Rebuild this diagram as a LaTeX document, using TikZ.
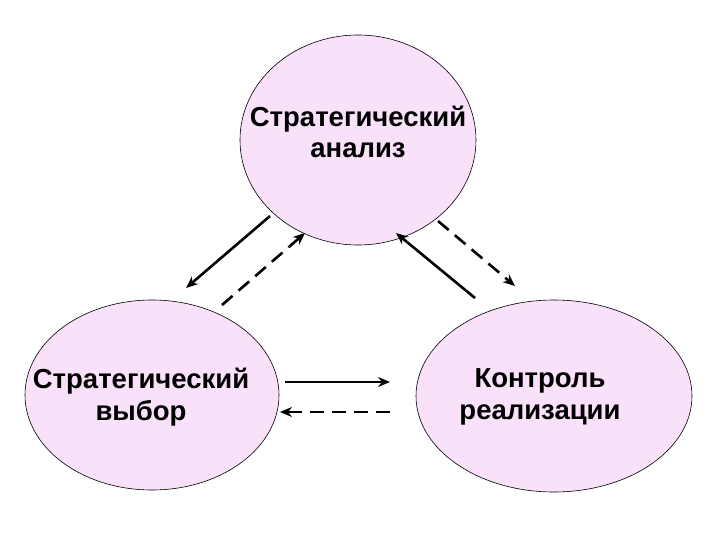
\documentclass[tikz,border=0pt]{standalone}
\usepackage{fontspec}
\setmainfont{Liberation Sans}
\usetikzlibrary{arrows.meta}
\definecolor{bubble}{HTML}{F9E1F9}
\begin{document}
\begin{tikzpicture}[x=1pt,y=-1pt,
  bubble/.style={draw=black,line width=0.6pt,fill=bubble},
  lbl/.style={align=center,font=\bfseries\fontsize{27.5}{31.5}\selectfont},
  conn/.style={line width=2.6pt,-{Stealth[length=12pt,width=10pt]}},
  dconn/.style={conn,dash pattern=on 14pt off 8pt}]
\useasboundingbox (0,0) rectangle (720,540);
\fill[white] (0,0) rectangle (720,540);
\draw[bubble] (358,140) ellipse [x radius=118,y radius=105];
\draw[bubble] (152,395) ellipse [x radius=127,y radius=95];
\draw[bubble] (554,396) ellipse [x radius=138,y radius=96];
\node[lbl] (an) at (358,132) {Стратегический\\анализ};
\node[lbl] (vy) at (141,397) {Стратегический\\выбор};
\node[lbl] (ko) at (540,397) {Контроль\\реализации};
\coordinate (a1) at (270,216); \coordinate (a2) at (186,288);
\coordinate (b1) at (222,305); \coordinate (b2) at (305,233);
\coordinate (c1) at (475,298); \coordinate (c2) at (396,233);
\coordinate (d1) at (438,221); \coordinate (d2) at (515,286);
\coordinate (e1) at (285,382); \coordinate (e2) at (390,382);
\coordinate (f1) at (390,412); \coordinate (f2) at (280,412);
\draw[conn] (a1) -- (a2);
\draw[dconn] (b1) -- (b2);
\draw[conn] (c1) -- (c2);
\draw[dconn] (d1) -- (d2);
\draw[conn] (e1) -- (e2);
\draw[dconn] (f1) -- (f2);
\end{tikzpicture}
\end{document}
